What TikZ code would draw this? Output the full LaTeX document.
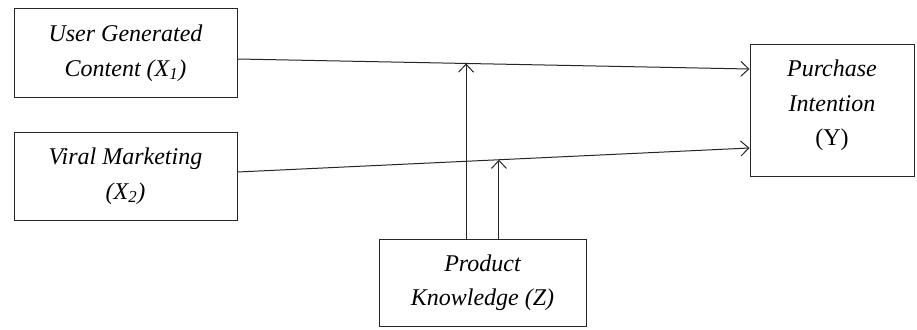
\documentclass[tikz,border=0pt]{standalone}
\usepackage{fontspec}
\setmainfont{Liberation Serif}
\usetikzlibrary{arrows.meta,calc}
\begin{document}
\begin{tikzpicture}[x=1pt,y=-1pt,
  box/.style={draw=black!85,line width=1pt,inner sep=0pt,align=center,
    font=\fontsize{24}{34.5}\selectfont\itshape},
  conn/.style={draw=black!85,line width=1pt,-{Straight Barb[length=8pt,width=15pt,line width=1pt]}}]
\useasboundingbox (0,0) rectangle (917,329);
\node[box,minimum width=223pt,minimum height=88pt] (x1) at (125.5,53) {User Generated\\Content (X\textsubscript{1})};
\node[box,minimum width=223pt,minimum height=88pt] (x2) at (125.5,176) {Viral Marketing\\(X\textsubscript{2})};
\node[box,minimum width=164pt,minimum height=131pt,text depth=15pt] (y) at (832,110.5) {Purchase\\Intention\\{\upshape (Y)}};
\node[box,minimum width=207pt,minimum height=87pt] (z) at (482.5,282.5) {Product\\Knowledge (Z)};
\coordinate (a1) at ($(x1.east)+(0,6)$);
\coordinate (b1) at ($(y.west)+(0,-41.5)$);
\coordinate (a2) at ($(x2.east)+(0,-4)$);
\coordinate (b2) at ($(y.west)+(0,37.5)$);
\draw[conn] (a1) -- (b1);
\draw[conn] (a2) -- (b2);
\coordinate (p1) at ($(a1)!0.4464!(b1)$);
\coordinate (p2) at ($(a2)!0.5107!(b2)$);
\draw[conn] (z.north -| p1) -- (p1);
\draw[conn] (z.north -| p2) -- (p2);
\end{tikzpicture}
\end{document}
